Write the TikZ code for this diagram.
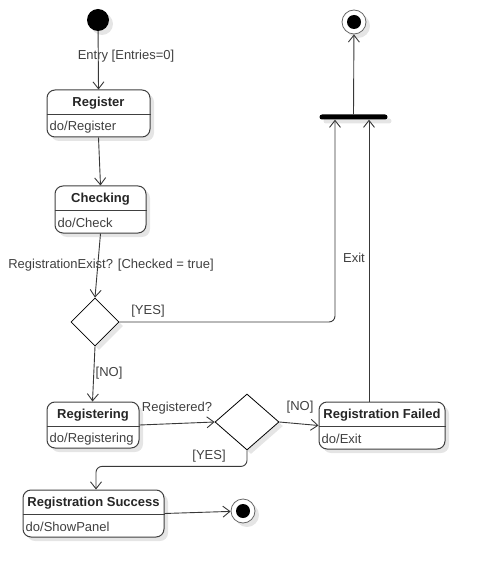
\documentclass[tikz,border=0pt]{standalone}
\usepackage{fontspec}
\setmainfont{Liberation Sans}
\usetikzlibrary{arrows.meta,shapes.geometric,shadows,fit}
\begin{document}
\begin{tikzpicture}[x=1pt,y=-1pt,
  font=\fontsize{13}{15}\selectfont,
  ln/.style={draw=black!78, line width=0.9pt},
  arr/.style={ln, -{Straight Barb[length=7pt,width=11pt,line width=0.9pt]}},
  shad/.style={drop shadow={shadow xshift=4pt,shadow yshift=-4pt,fill=black!10,opacity=1}},
  statebox/.style={draw=black!75, line width=1pt, rounded corners=8pt, fill=white, inner sep=0pt, shad},
  divider/.style={draw=black!75, line width=1pt},
  ttl/.style={font=\fontsize{13}{15}\selectfont\bfseries, text=black!85, inner sep=0pt},
  bdy/.style={anchor=west, text=black!75, inner sep=0pt},
  lbl/.style={text=black!75, inner sep=0pt},
  dec/.style={diamond, draw=black, line width=0.8pt, fill=white, inner sep=0pt, shad},
]
\useasboundingbox (0,0) rectangle (485,577);

% initial / final states and bar
\node[circle, fill=black, minimum size=22pt, inner sep=0pt, shad] (init) at (98,20) {};
\node[circle, draw=black!60, fill=white, minimum size=24pt, inner sep=0pt, line width=0.8pt, shad] (fin1) at (354,22) {};
\node[circle, fill=black, minimum size=14pt, inner sep=0pt] (fin1c) at (fin1) {};
\node[circle, draw=black!60, fill=white, minimum size=24pt, inner sep=0pt, line width=0.8pt, shad] (fin2) at (243,511) {};
\node[circle, fill=black, minimum size=14pt, inner sep=0pt] (fin2c) at (fin2) {};
\node[fill=black, rounded corners=2.5pt, minimum width=68pt, minimum height=5pt, inner sep=0pt, shad] (bar) at (353.5,117) {};

% state boxes
\node[statebox, fit={(47,90) (150,137)}] (reg) {};
\node[statebox, fit={(55,186) (146,233)}] (chk) {};
\node[statebox, fit={(47,402) (139,448)}] (regg) {};
\node[statebox, fit={(319,402) (445,449)}] (fail) {};
\node[statebox, fit={(23,490) (164,537)}] (succ) {};

\foreach \b in {reg,chk,regg,fail,succ}{
  \draw[divider] ([yshift=-25pt]\b.north west) -- ([yshift=-25pt]\b.north east);
}

\node[ttl] (regT) at ([yshift=-13.5pt]reg.north) {Register};
\node[bdy] (regB) at ([xshift=3pt,yshift=-37.5pt]reg.north west) {do/Register};
\node[ttl] (chkT) at ([yshift=-13.5pt]chk.north) {Checking};
\node[bdy] (chkB) at ([xshift=3pt,yshift=-37.5pt]chk.north west) {do/Check};
\node[ttl] (reggT) at ([yshift=-13.5pt]regg.north) {Registering};
\node[bdy] (reggB) at ([xshift=3pt,yshift=-37.5pt]regg.north west) {do/Registering};
\node[ttl] (failT) at ([yshift=-13.5pt]fail.north) {Registration Failed};
\node[bdy] (failB) at ([xshift=3pt,yshift=-37.5pt]fail.north west) {do/Exit};
\node[ttl] (succT) at ([yshift=-13.5pt]succ.north) {Registration Success};
\node[bdy] (succB) at ([xshift=3pt,yshift=-37.5pt]succ.north west) {do/ShowPanel};

% decisions
\node[dec, minimum width=48pt, minimum height=48pt] (d1) at (95,322) {};
\node[dec, minimum width=64pt, minimum height=56pt, aspect=1.14] (d2) at (247,422) {};

% connectors
\draw[arr] (init) -- (reg.north);
\draw[arr] (reg.south) -- (chk.north);
\draw[arr] (chk.south) -- (d1.north);
\draw[arr, rounded corners=6pt] (d1.east) -| ([xshift=-18.5pt]bar.south);
\draw[arr] (d1.south) -- ([xshift=-0.5pt]regg.north);
\draw[arr] (regg.east) -- (d2.west);
\draw[arr] (d2.east) -- (fail.west);
\draw[arr] ([xshift=-13pt]fail.north) -- ([xshift=15.5pt]bar.south);
\draw[arr, rounded corners=6pt] (d2.south) -- ++(0,16) -| ([xshift=2.5pt]succ.north);
\draw[arr] (succ.east) -- (fin2);
\draw[arr] (bar.north) -- (fin1);

% labels
\node[lbl] (l1) at (126,56) {Entry [Entries=0]};
\node[lbl] (l2) at (111,265) {RegistrationExist? [Checked = true]};
\node[lbl] (l3) at (148,311) {[YES]};
\node[lbl] (l4) at (354,258) {Exit};
\node[lbl] (l5) at (109,373) {[NO]};
\node[lbl] (l6) at (177,408) {Registered?};
\node[lbl] (l7) at (300,407) {[NO]};
\node[lbl] (l8) at (209,456) {[YES]};
\end{tikzpicture}
\end{document}
